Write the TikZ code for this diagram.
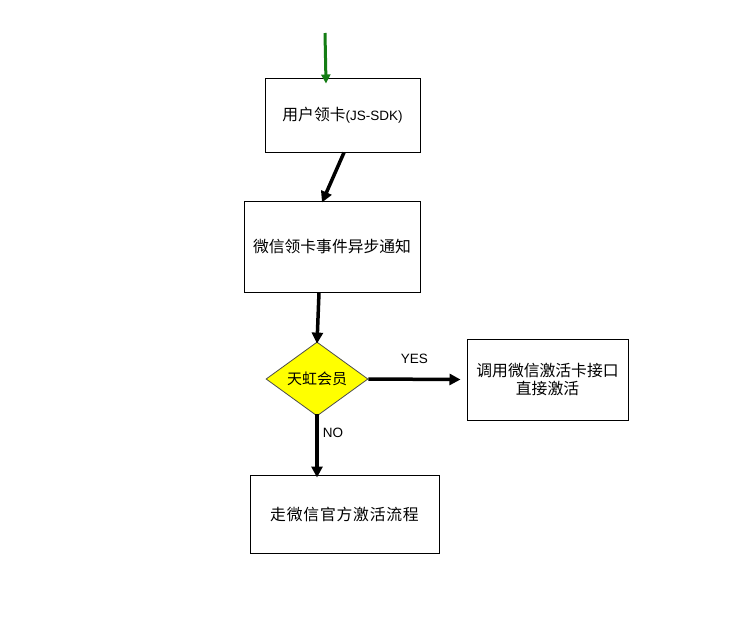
\documentclass[tikz,border=0pt]{standalone}
\usepackage{fontspec}
\setmainfont{Liberation Sans}
\newfontfamily\cjk{Noto Sans CJK SC}
\newfontfamily\cjkwide{Noto Sans CJK SC}[LetterSpace=5]
\usetikzlibrary{shapes.geometric,arrows.meta}
\definecolor{startgreen}{RGB}{20,125,20}
\definecolor{decyellow}{RGB}{255,255,0}
\tikzset{
  stepbox/.style={draw=black, line width=1pt, rectangle, inner sep=0pt, align=center, font=\cjk\fontsize{15.8}{19}\selectfont},
  decbox/.style={draw=black!70, line width=0.8pt, diamond, fill=decyellow, inner sep=0pt, font=\cjk\fontsize{15}{18}\selectfont},
  flow/.style={line width=3.5pt, -{Triangle[length=11pt,width=11pt]}},
  startflow/.style={line width=3pt, draw=startgreen, -{Triangle[length=9pt,width=9pt]}, startgreen},
  lbl/.style={font=\fontsize{13.5}{15}\selectfont, inner sep=0pt}
}
\begin{document}
\begin{tikzpicture}[x=1pt,y=-1pt]
\useasboundingbox[fill=white] (0,0) rectangle (746,622);
\node[stepbox, minimum width=155pt, minimum height=74pt] (b1) at (342.5,115) {用户领卡{\rmfamily\fontsize{13.5}{15}\selectfont(JS-SDK)}};
\node[stepbox, minimum width=176pt, minimum height=91pt] (b2) at (332,246.5) {微信领卡事件异步通知};
\node[decbox, minimum width=102pt, minimum height=74pt] (d) at (317,379) {天虹会员};
\node[stepbox, minimum width=161pt, minimum height=81pt] (b3) at (547.5,379.5) {调用微信激活卡接口\\[-1pt]直接激活};
\node[stepbox, minimum width=189pt, minimum height=78pt, font=\cjkwide\fontsize{15.8}{19}\selectfont] (b4) at (344.5,514) {走微信官方激活流程};
\coordinate (start) at (325,33);
\draw[startflow] (start) -- ([xshift=-16.5pt,yshift=-6pt]b1.north);
\draw[flow] ([xshift=1.5pt]b1.south) -- ([xshift=-10pt,yshift=-2pt]b2.north);
\draw[flow] ([xshift=-13pt]b2.south) -- ([yshift=-2pt]d.north);
\draw[flow] (d.east) -- ([xshift=-6pt]b3.west) node[lbl, midway, above=14pt] {YES};
\draw[flow] ([yshift=2pt]d.south) -- ([yshift=-3pt]b4.north -| d.south) node[lbl, pos=0.3, right=4pt] {NO};
\end{tikzpicture}
\end{document}
